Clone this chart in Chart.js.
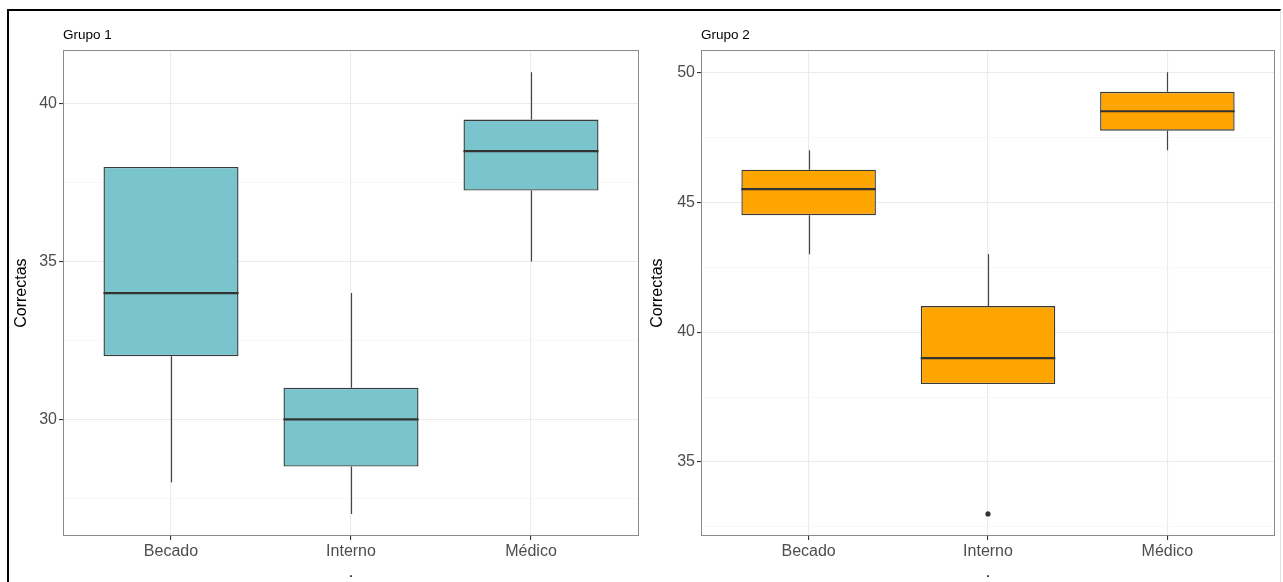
<!DOCTYPE html>
<html>
<head>
<meta charset="utf-8">
<script src="https://cdn.jsdelivr.net/npm/chart.js@4.4.1/dist/chart.umd.min.js"></script>
<style>
  body { margin: 0; background: #fff; width: 1283px; height: 582px; overflow: hidden; position: relative; }
  #marco { position: absolute; left: 7px; top: 9px; width: 1274px; height: 573px;
           border-top: 2px solid #000; border-left: 2px solid #000; border-right: 1px solid #e2e2e2; box-sizing: border-box; }
  canvas { position: absolute; top: 11px; }
  #grupo1 { left: 9px; }
  #grupo2 { left: 640px; }
</style>
</head>
<body>
<div id="marco"></div>
<canvas id="grupo1" width="631" height="571"></canvas>
<canvas id="grupo2" width="641" height="571"></canvas>
<script>
// categorias (eje x)
const categorias = ['Becado', 'Interno', 'Médico'];

// Grupo 1: resumen de cajas
const g1Min = [28, 27, 35];
const g1Q1  = [32, 28.5, 37.25];
const g1Med = [34, 30, 38.5];
const g1Q3  = [38, 31, 39.5];
const g1Max = [38, 34, 41];
const g1TicksMayor = [30, 35, 40];
const g1TicksMenor = [27.5, 32.5, 37.5];

// Grupo 2: resumen de cajas
const g2Min = [43, 38, 47];
const g2Q1  = [44.5, 38, 47.75];
const g2Med = [45.5, 39, 48.5];
const g2Q3  = [46.25, 41, 49.25];
const g2Max = [47, 43, 50];
const g2OutlierCat = ['Interno'];
const g2OutlierVal = [33];
const g2TicksMayor = [35, 40, 45, 50];
const g2TicksMenor = [32.5, 37.5, 42.5, 47.5];

const FUENTE = "'Liberation Sans', Arial, sans-serif";
const OSCURO = '#333333';

function tekenCaja(canvasId, cfg) {
    const ctx = document.getElementById(canvasId).getContext('2d');

    // rango del eje y como en ggplot (5% de expansion)
    const todos = cfg.min.concat(cfg.max, cfg.outVal || []);
    const lo = Math.min(...todos), hi = Math.max(...todos);
    const pad = (hi - lo) * 0.05;

    // bigotes, medianas y borde del panel
    const cajaPlugin = {
        id: 'cajaPlugin',
        beforeDatasetsDraw(chart) {
            const { ctx: c, scales: { x, y } } = chart;
            c.save();
            c.strokeStyle = '#444';
            c.lineWidth = 1.2;
            cfg.min.forEach((mn, i) => {
                const px = Math.round(x.getPixelForValue(i + 1)) + 0.5;
                c.beginPath();
                c.moveTo(px, y.getPixelForValue(cfg.max[i]));
                c.lineTo(px, y.getPixelForValue(cfg.q3[i]));
                c.moveTo(px, y.getPixelForValue(cfg.q1[i]));
                c.lineTo(px, y.getPixelForValue(mn));
                c.stroke();
            });
            c.restore();
        },
        afterDatasetsDraw(chart) {
            const { ctx: c, scales: { y }, chartArea: a } = chart;
            const barras = chart.getDatasetMeta(0).data;
            c.save();
            c.strokeStyle = OSCURO;
            c.lineWidth = 2.2;
            cfg.med.forEach((m, i) => {
                const b = barras[i];
                const py = y.getPixelForValue(m);
                c.beginPath();
                c.moveTo(b.x - b.width / 2, py);
                c.lineTo(b.x + b.width / 2, py);
                c.stroke();
            });
            c.strokeStyle = '#8a8a8a';
            c.lineWidth = 1;
            c.strokeRect(Math.round(a.left) + 0.5, Math.round(a.top) + 0.5,
                         Math.round(a.width) - 1, Math.round(a.height) - 1);
            c.restore();
        }
    };

    const datasets = [{
        type: 'bar',
        data: cfg.q1.map((q, i) => ({ x: i + 1, y: [q, cfg.q3[i]] })),
        backgroundColor: cfg.kleur,
        borderColor: '#3a3a3a',
        borderWidth: 1.4,
        borderSkipped: false,
        inflateAmount: 0,
        categoryPercentage: 1,
        barPercentage: 0.75
    }];
    if (cfg.outCat) {
        datasets.push({
            type: 'scatter',
            data: cfg.outCat.map((c, i) => ({ x: categorias.indexOf(c) + 1, y: cfg.outVal[i] })),
            backgroundColor: OSCURO,
            borderColor: OSCURO,
            pointRadius: 2.6,
            pointBorderWidth: 0
        });
    }

    return new Chart(ctx, {
        type: 'bar',
        data: { datasets },
        options: {
            responsive: false,
            animation: false,
            layout: { padding: { left: 0, right: cfg.derecha, top: 0, bottom: 0 } },
            plugins: {
                legend: { display: false },
                tooltip: { enabled: false },
                title: {
                    display: true, text: cfg.titulo, align: 'start', fullSize: false,
                    color: '#000', font: { family: FUENTE, size: 13.5, weight: 'normal' },
                    padding: { top: 16, bottom: 7 }
                }
            },
            scales: {
                x: {
                    type: 'linear', min: 0.4, max: 3.6, offset: false,
                    afterBuildTicks: s => { s.ticks = categorias.map((c, i) => ({ value: i + 1 })); },
                    afterFit: s => { s.height = 46; },
                    ticks: {
                        autoSkip: false, maxRotation: 0, padding: 2, color: '#4d4d4d',
                        font: { family: FUENTE, size: 16 },
                        callback: v => categorias[v - 1]
                    },
                    grid: { offset: false, color: '#ebebeb', lineWidth: 1.1, tickLength: 4, tickColor: OSCURO },
                    border: { display: false },
                    title: { display: true, text: '.', color: '#000', font: { family: FUENTE, size: 16 },
                             padding: { top: 0, bottom: 0 } }
                },
                y: {
                    min: lo - pad, max: hi + pad,
                    afterBuildTicks: s => {
                        s.ticks = cfg.mayor.concat(cfg.menor).sort((a, b) => a - b).map(v => ({ value: v }));
                    },
                    afterFit: s => { s.width = cfg.ancho; },
                    ticks: {
                        autoSkip: false, padding: 2, color: '#4d4d4d',
                        font: { family: FUENTE, size: 16 },
                        callback: v => cfg.mayor.includes(v) ? v : ''
                    },
                    grid: {
                        color: c => cfg.mayor.includes(c.tick && c.tick.value) ? '#ebebeb' : '#f3f3f3',
                        lineWidth: c => cfg.mayor.includes(c.tick && c.tick.value) ? 1.1 : 0.6,
                        tickLength: 4,
                        tickColor: c => cfg.mayor.includes(c.tick && c.tick.value) ? OSCURO : 'rgba(0,0,0,0)'
                    },
                    border: { display: false },
                    title: { display: true, text: 'Correctas', color: '#000', font: { family: FUENTE, size: 16 },
                             padding: { top: cfg.tituloY, bottom: 0 } }
                }
            }
        },
        plugins: [cajaPlugin]
    });
}

tekenCaja('grupo1', {
    titulo: 'Grupo 1', kleur: '#7AC5CD',
    min: g1Min, q1: g1Q1, med: g1Med, q3: g1Q3, max: g1Max,
    mayor: g1TicksMayor, menor: g1TicksMenor,
    ancho: 54, derecha: 1, tituloY: 3.4
});

tekenCaja('grupo2', {
    titulo: 'Grupo 2', kleur: '#FFA500',
    min: g2Min, q1: g2Q1, med: g2Med, q3: g2Q3, max: g2Max,
    outCat: g2OutlierCat, outVal: g2OutlierVal,
    mayor: g2TicksMayor, menor: g2TicksMenor,
    ancho: 61, derecha: 6, tituloY: 8.4
});
</script>
</body>
</html>
